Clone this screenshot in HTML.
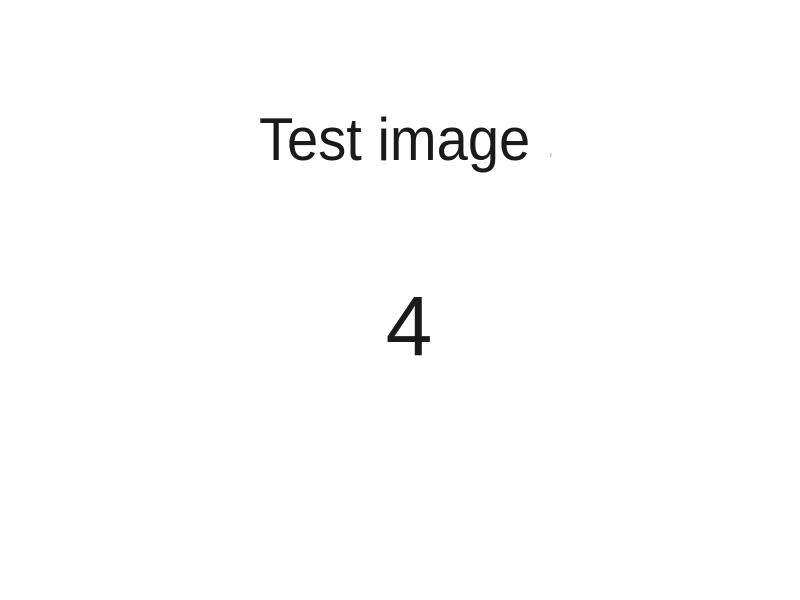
<!DOCTYPE html>
<html>
<head>
<meta charset="utf-8">
<style>
  html, body { margin: 0; padding: 0; background: #ffffff; }
  svg { display: block; }
  text { font-family: "Liberation Sans", sans-serif; fill: #1a1a1a; }
</style>
</head>
<body>
<svg width="800" height="600" viewBox="0 0 800 600">
  <rect x="0" y="0" width="800" height="600" fill="#ffffff"/>
  <text x="259" y="160" font-size="60" transform="translate(259,0) scale(0.935,1) translate(-259,0)">Test image</text>
  <rect x="550" y="153" width="1.5" height="4" fill="#c8c8c8"/>
  <text x="409" y="355" font-size="84" text-anchor="middle">4</text>
</svg>
</body>
</html>
